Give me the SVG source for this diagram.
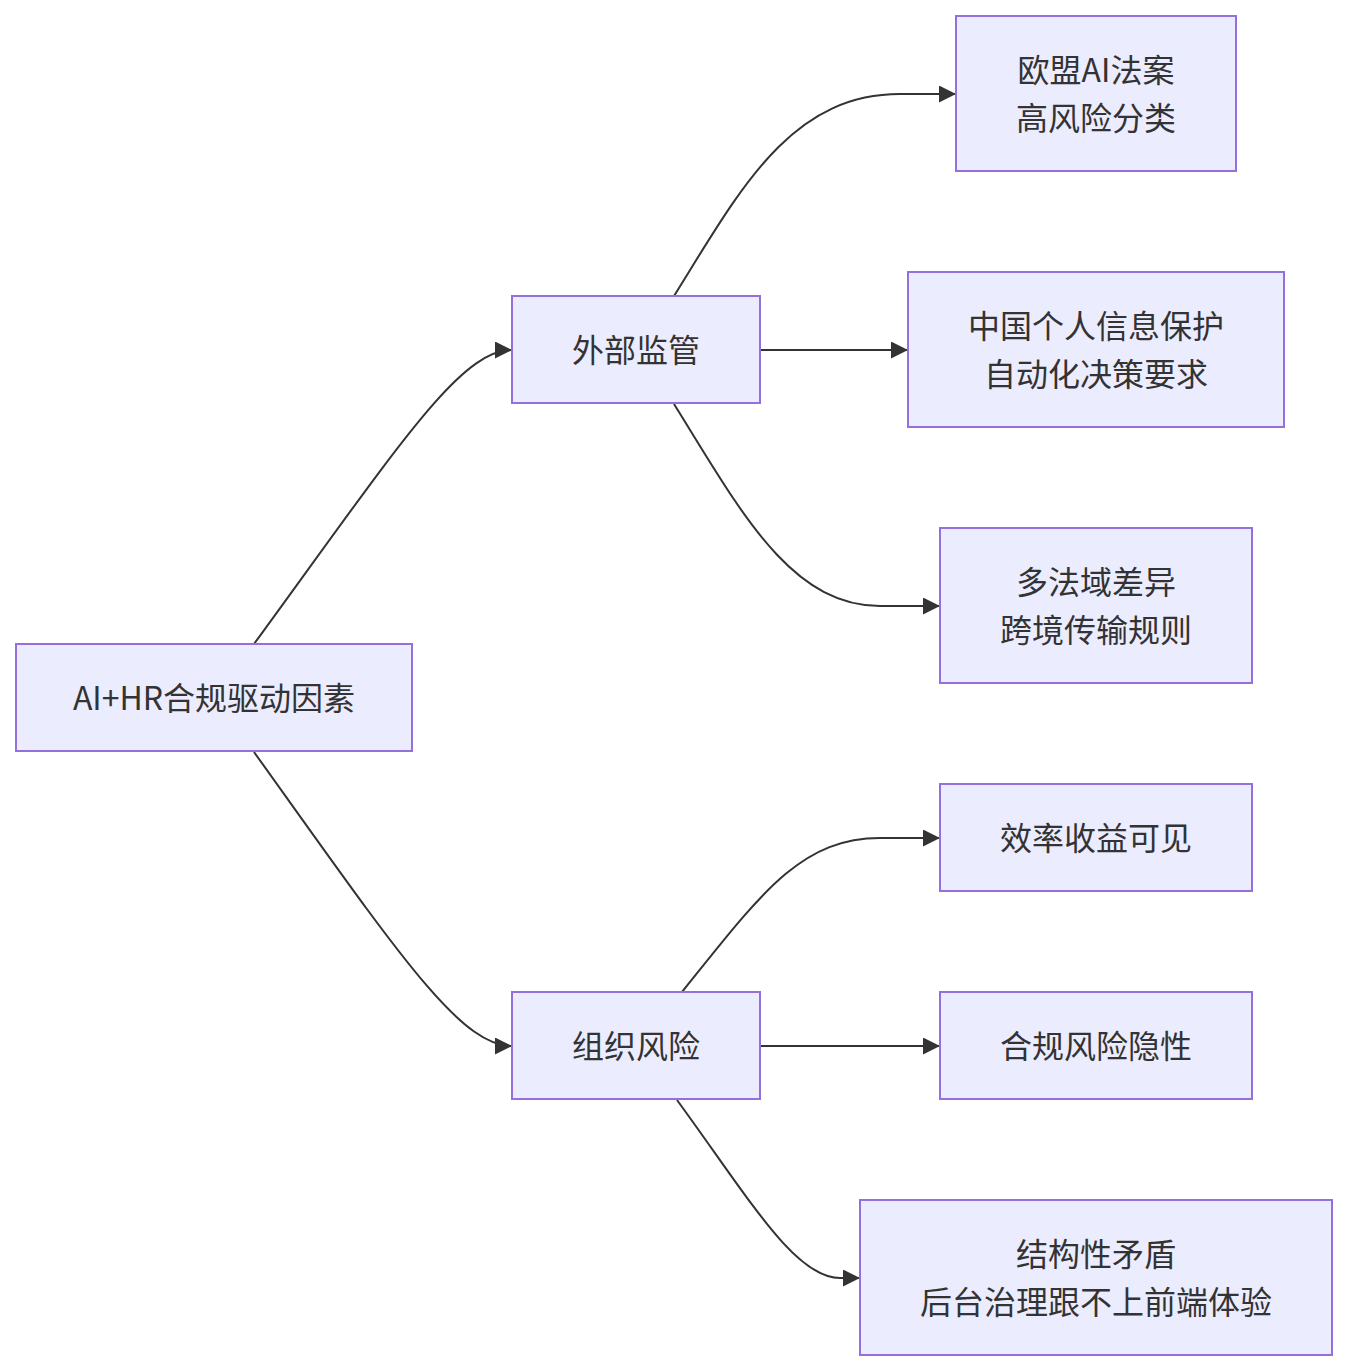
<svg xmlns="http://www.w3.org/2000/svg" width="1348" height="1372" viewBox="0 0 1348 1372">
<style>
.node rect{fill:#ECECFF;stroke:#9370DB;stroke-width:2}
.node text{font-family:"Noto Sans CJK SC","Liberation Sans",sans-serif;font-size:32px;fill:#333;text-anchor:middle;dominant-baseline:central}
.edge{fill:none;stroke:#333;stroke-width:2;marker-end:url(#arrow)}
</style>
<defs>
<marker id="arrow" viewBox="0 0 10 10" refX="10" refY="5" markerUnits="userSpaceOnUse" markerWidth="17" markerHeight="17" orient="auto">
<path d="M0,0 L10,5 L0,10 z" fill="#333"/>
</marker>
</defs>
<rect width="1348" height="1372" fill="#fff"/>
<g id="connectors">
<path class="edge" d="M254,644 C400,444 460,350 512,350"/>
<path class="edge" d="M254,752 C400,956 460,1046 512,1046"/>
<path class="edge" d="M674,296 C740,190 790,94 900,94 L956,94"/>
<path class="edge" d="M760,350 L908,350"/>
<path class="edge" d="M674,404 C740,510 790,606 880,606 L940,606"/>
<path class="edge" d="M682,992 C760,895 800,838 880,838 L940,838"/>
<path class="edge" d="M760,1046 L940,1046"/>
<path class="edge" d="M677,1100 C750,1200 795,1278 840,1278 L860,1278"/>
</g>
<g id="root" class="node"><rect x="16" y="644" width="396" height="107"/><text x="214" y="696">AI+HR合规驱动因素</text></g>
<g id="external" class="node"><rect x="512" y="296" width="248" height="107"/><text x="636" y="348">外部监管</text></g>
<g id="org" class="node"><rect x="512" y="992" width="248" height="107"/><text x="636" y="1044">组织风险</text></g>
<g id="eu" class="node"><rect x="956" y="16" width="280" height="155"/><text x="1096" y="68">欧盟AI法案</text><text x="1096" y="116">高风险分类</text></g>
<g id="china" class="node"><rect x="908" y="272" width="376" height="155"/><text x="1096" y="324">中国个人信息保护</text><text x="1096" y="372">自动化决策要求</text></g>
<g id="multi" class="node"><rect x="940" y="528" width="312" height="155"/><text x="1096" y="580">多法域差异</text><text x="1096" y="628">跨境传输规则</text></g>
<g id="efficiency" class="node"><rect x="940" y="784" width="312" height="107"/><text x="1096" y="836">效率收益可见</text></g>
<g id="hidden" class="node"><rect x="940" y="992" width="312" height="107"/><text x="1096" y="1044">合规风险隐性</text></g>
<g id="structural" class="node"><rect x="860" y="1200" width="472" height="155"/><text x="1096" y="1252">结构性矛盾</text><text x="1096" y="1300">后台治理跟不上前端体验</text></g>
</svg>
